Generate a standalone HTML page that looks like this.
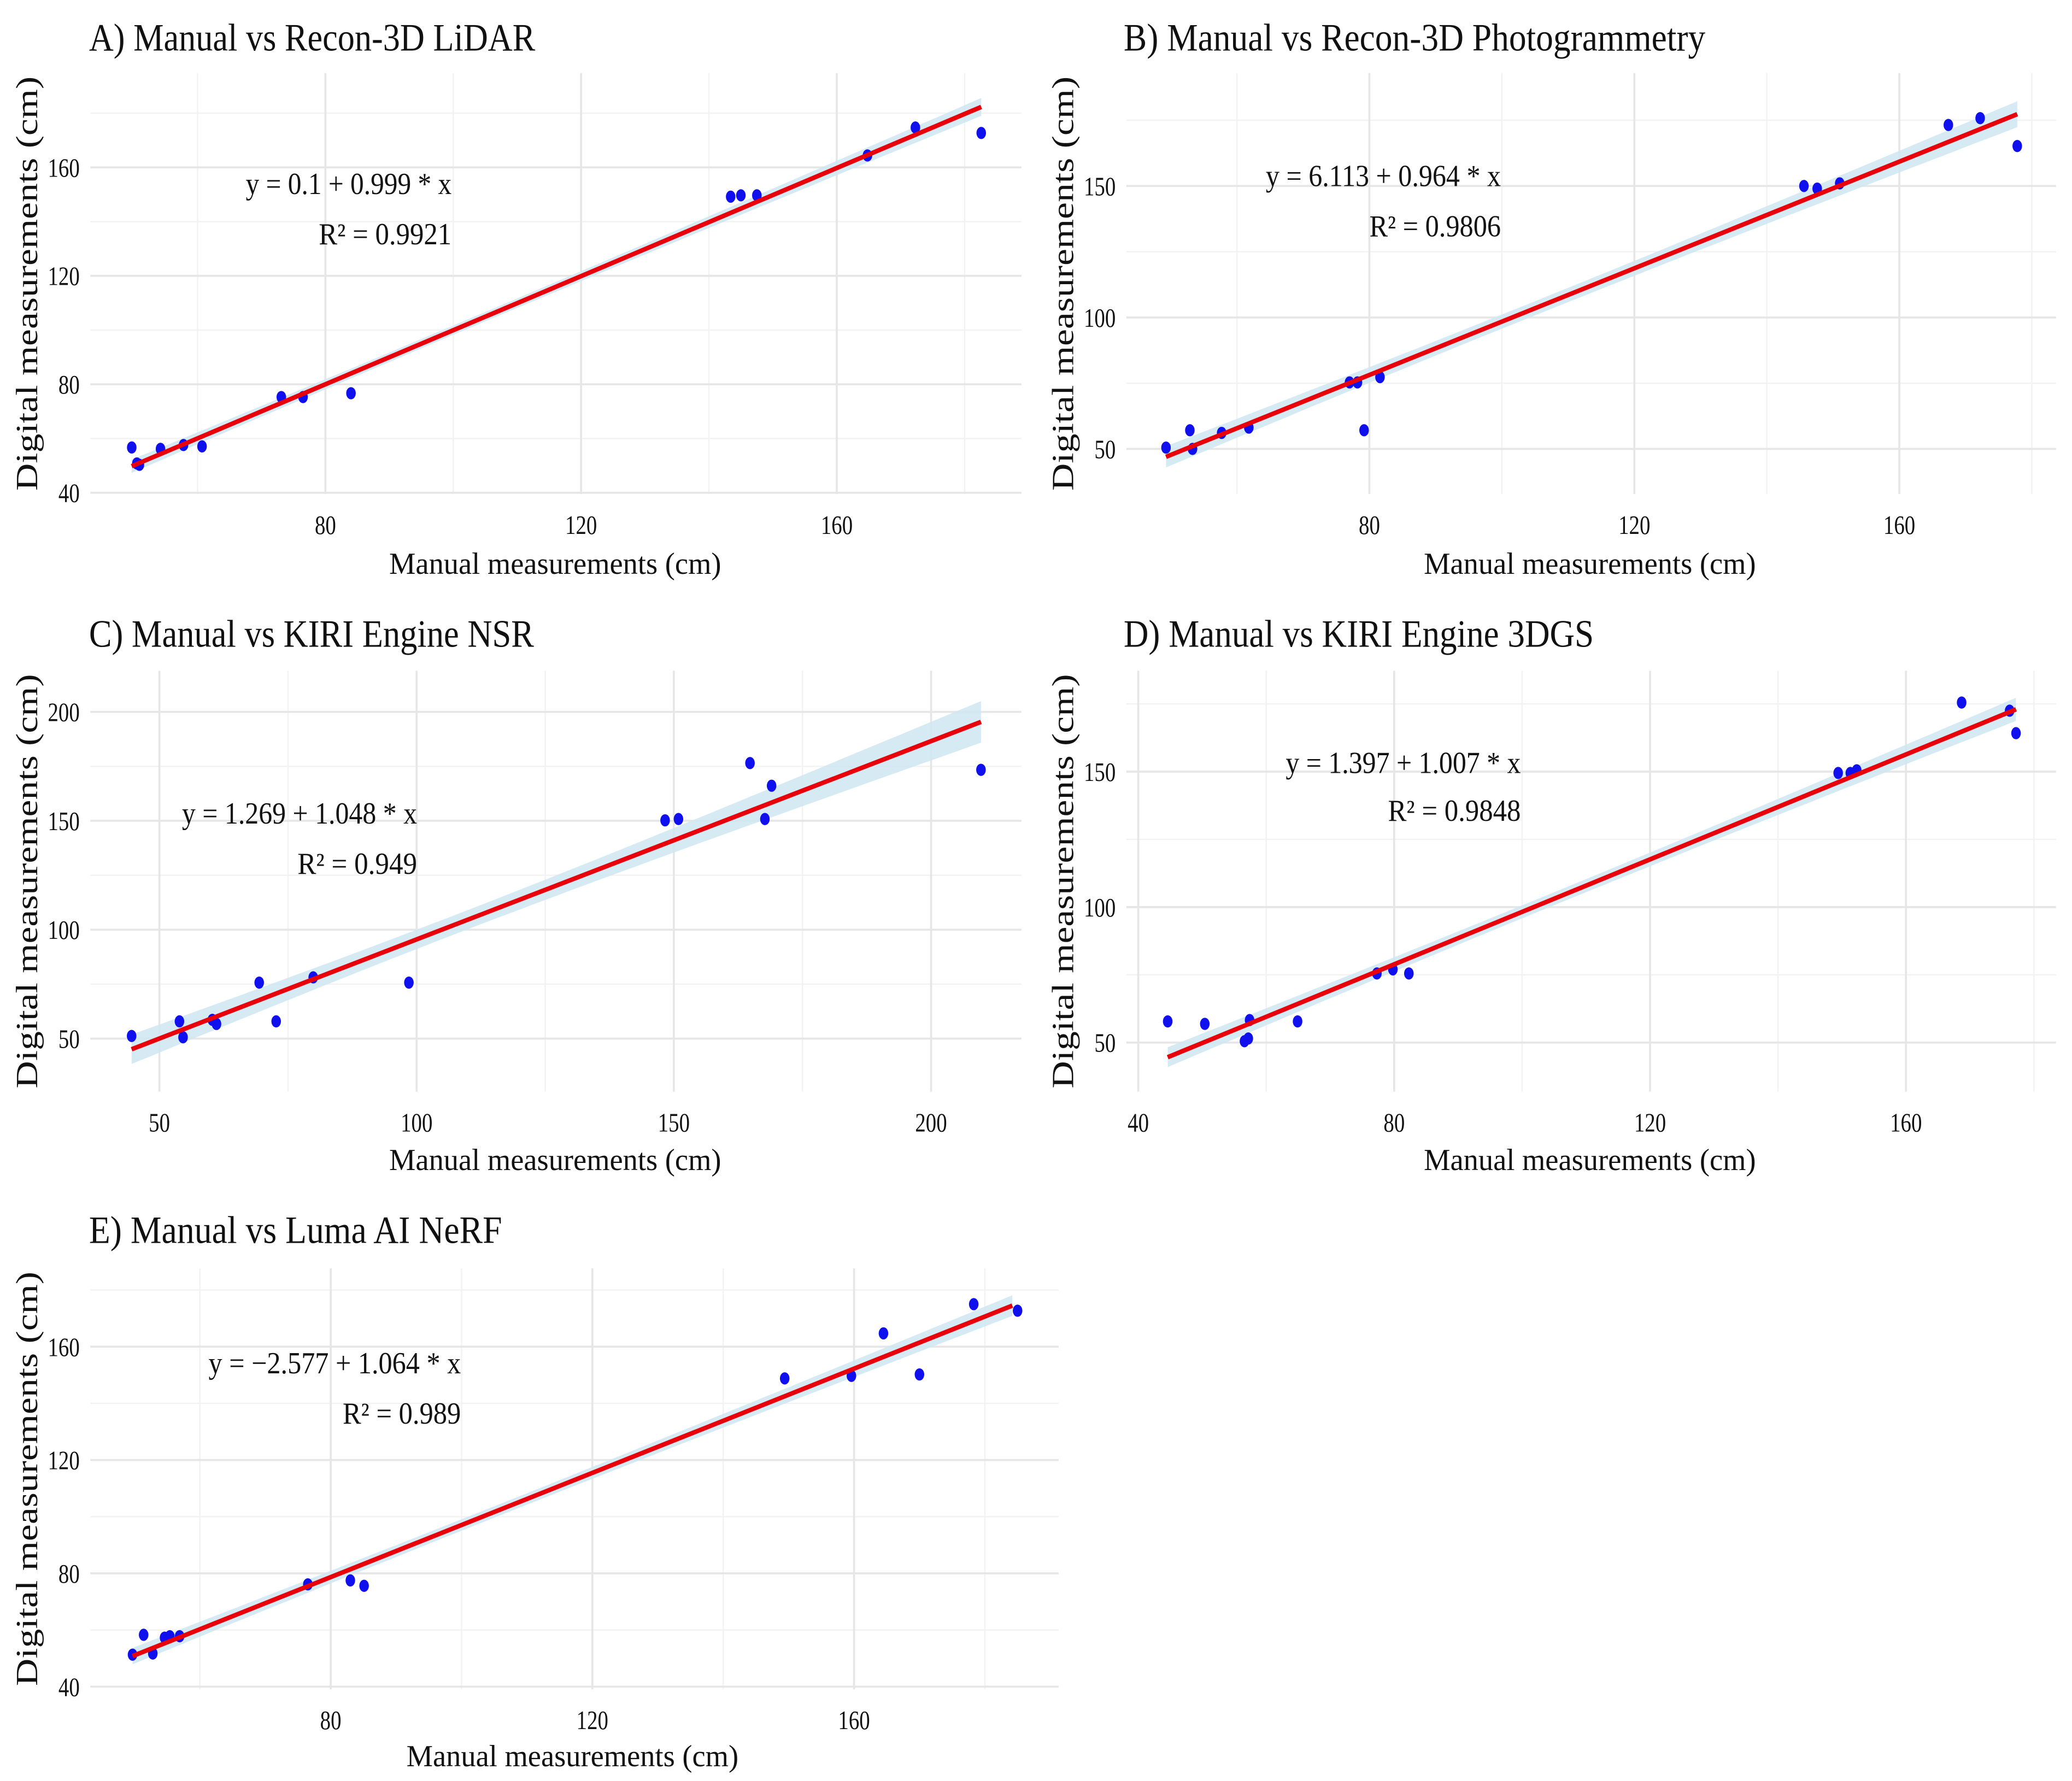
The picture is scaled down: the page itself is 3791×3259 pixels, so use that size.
<!DOCTYPE html>
<html><head><meta charset="utf-8">
<style>
html,body{margin:0;padding:0;background:#fff;}
svg{display:block;}
text{font-family:"Liberation Serif","DejaVu Serif",serif;fill:#111;}
</style></head>
<body>
<svg id="fig" width="3791" height="3259" viewBox="0 0 1560 1341" xmlns="http://www.w3.org/2000/svg"></svg>
<script>
// ---- Panel A data ----
const aX = [49.7,50.5,50.9,54.2,57.8,60.7,73.1,76.5,84.0,143.4,145.0,147.5,164.8,172.3,182.6];
const aY = [56.7,50.8,50.3,56.2,57.6,57.1,75.3,75.3,76.7,149.2,149.7,149.7,164.4,174.7,172.7];
const aLineX = [49.7,182.6];
const aLineY = [49.8,182.3];
const aXTicks = [80,120,160];
const aYTicks = [40,80,120,160];
// ---- Panel B data ----
const bX = [49.3,52.9,53.3,57.7,61.8,77.0,78.2,79.2,81.6,145.6,147.6,151.0,167.4,172.2,177.8];
const bY = [50.5,57.1,50.0,56.1,58.1,75.3,75.3,57.1,77.3,150.0,149.0,151.0,173.2,175.8,165.2];
const bLineX = [49.3,177.8];
const bLineY = [47.0,177.3];
const bXTicks = [80,120,160];
const bYTicks = [50,100,150];
// ---- Panel C data ----
const cX = [44.6,53.9,54.6,60.3,61.1,69.4,72.7,79.9,98.5,148.3,150.9,164.8,167.7,169.0,209.7];
const cY = [51.2,57.9,50.6,58.6,56.7,75.7,57.9,78.1,75.7,150.2,150.8,176.5,150.8,166.1,173.4];
const cLineX = [44.6,209.7];
const cLineY = [45.1,195.4];
const cXTicks = [50,100,150,200];
const cYTicks = [50,100,150,200];
// ---- Panel D data ----
const dX = [44.6,50.4,56.6,57.2,57.4,64.9,77.3,79.8,82.3,149.4,151.3,152.3,168.7,176.2,177.2];
const dY = [57.8,56.9,50.5,51.5,58.3,57.8,75.5,77.0,75.5,149.5,149.5,150.5,175.5,172.5,164.2];
const dLineX = [44.6,177.2];
const dLineY = [44.6,173.0];
const dXTicks = [40,80,120,160];
const dYTicks = [50,100,150];
// ---- Panel E data ----
const eX = [49.7,51.4,52.8,54.6,55.4,56.9,76.5,83.0,85.1,149.4,159.6,164.5,170.0,178.3,185.0];
const eY = [51.3,58.3,51.7,57.3,57.8,57.8,76.1,77.5,75.6,148.8,149.7,164.7,150.2,175.0,172.7];
const eLineX = [49.7,184.2];
const eLineY = [50.8,174.5];
const eXTicks = [80,120,160];
const eYTicks = [40,80,120,160];

const NS="http://www.w3.org/2000/svg";
const fig=document.getElementById('fig');
function mk(tag,attrs,parent){const e=document.createElementNS(NS,tag);for(const k in attrs)e.setAttribute(k,attrs[k]);(parent||fig).appendChild(e);return e;}

const panels=[
 {key:'a',title:'A) Manual vs Recon-3D LiDAR',tx:67,ty:38,tw:336,X:aX,Y:aY,LX:aLineX,LY:aLineY,xt:aXTicks,yt:aYTicks,
  r:[68,55,769,372],xa:[80,245,160,630],ya:[40,371,160,126],eq:'y = 0.1 + 0.999 * x',r2:'R² = 0.9921',e1:[185,146,155],e2:[240,184,100],xl:[418,432],ylx:20},
 {key:'b',title:'B) Manual vs Recon-3D Photogrammetry',tx:846,ty:38,tw:438,X:bX,Y:bY,LX:bLineX,LY:bLineY,xt:bXTicks,yt:bYTicks,
  r:[848,55,1548,372],xa:[80,1031,160,1430],ya:[50,338,150,140],eq:'y = 6.113 + 0.964 * x',r2:'R² = 0.9806',e1:[953,140,177],e2:[1031,178,99],xl:[1197,432],ylx:800},
 {key:'c',title:'C) Manual vs KIRI Engine NSR',tx:67,ty:487,tw:335,X:cX,Y:cY,LX:cLineX,LY:cLineY,xt:cXTicks,yt:cYTicks,
  r:[68,505,769,822],xa:[50,120,200,701],ya:[50,782,200,536],eq:'y = 1.269 + 1.048 * x',r2:'R² = 0.949',e1:[137,620,177],e2:[224,658,90],xl:[418,881],ylx:20},
 {key:'d',title:'D) Manual vs KIRI Engine 3DGS',tx:846,ty:487,tw:354,X:dX,Y:dY,LX:dLineX,LY:dLineY,xt:dXTicks,yt:dYTicks,
  r:[848,505,1548,822],xa:[40,857,160,1435],ya:[50,785,150,581],eq:'y = 1.397 + 1.007 * x',r2:'R² = 0.9848',e1:[968,582,177],e2:[1045,618,100],xl:[1197,881],ylx:800},
 {key:'e',title:'E) Manual vs Luma AI NeRF',tx:67,ty:936,tw:311,X:eX,Y:eY,LX:eLineX,LY:eLineY,xt:eXTicks,yt:eYTicks,
  r:[68,955,797,1272],xa:[80,249,160,643],ya:[40,1270,160,1014],eq:'y = −2.577 + 1.064 * x',r2:'R² = 0.989',e1:[157,1034,190],e2:[258,1072,89],xl:[431,1330],ylx:20}
];

panels.forEach(p=>{
 const g=mk('g',{});
 
 
 const [L,T,R,B]=p.r;
 const sx=v=>p.xa[1]+(v-p.xa[0])*(p.xa[3]-p.xa[1])/(p.xa[2]-p.xa[0]);
 const sy=v=>p.ya[1]+(v-p.ya[0])*(p.ya[3]-p.ya[1])/(p.ya[2]-p.ya[0]);
 const dxT=p.xt[1]-p.xt[0], dyT=p.yt[1]-p.yt[0];
 for(let v=p.xt[0]-dxT*1.5; v<=p.xt[p.xt.length-1]+dxT*1.5; v+=dxT){const x=sx(v);if(x>=L&&x<=R){const l=mk('line',{x1:x,x2:x,y1:T,y2:B,stroke:'#f2f2f2','stroke-width':1},g);}}
 for(let v=p.yt[0]-dyT*1.5; v<=p.yt[p.yt.length-1]+dyT*1.5; v+=dyT){const y=sy(v);if(y>=T&&y<=B){const l=mk('line',{x1:L,x2:R,y1:y,y2:y,stroke:'#f2f2f2','stroke-width':1},g);}}
 p.xt.forEach(v=>{const x=sx(v);
  const l=mk('line',{x1:x,x2:x,y1:T,y2:B,stroke:'#e6e6e6','stroke-width':1.5},g);
  
  const t=mk('text',{x:x,y:B+30,'text-anchor':'middle','font-size':20,fill:'#444',transform:'translate('+x+' 0) scale(0.8 1) translate('+(-x)+' 0)'},g);t.textContent=v;
  });
 p.yt.forEach(v=>{const y=sy(v);
  const l=mk('line',{x1:L,x2:R,y1:y,y2:y,stroke:'#e6e6e6','stroke-width':1.5},g);
  
  const t=mk('text',{x:L-8,y:y+7,'text-anchor':'end','font-size':20,fill:'#444',transform:'translate('+(L-8)+' 0) scale(0.8 1) translate('+(-(L-8))+' 0)'},g);t.textContent=v;
  });
 const n=p.X.length, mx=p.X.reduce((a,b)=>a+b)/n;
 const slope=(p.LY[1]-p.LY[0])/(p.LX[1]-p.LX[0]);
 const f=x=>p.LY[0]+slope*(x-p.LX[0]);
 let sxx=0,sse=0;for(let i=0;i<n;i++){sxx+=(p.X[i]-mx)**2;sse+=(p.Y[i]-f(p.X[i]))**2;}
 const s=Math.sqrt(sse/(n-2)), tq=1.4;
 const up=[],lo=[];
 for(let k=0;k<=40;k++){const x=p.LX[0]+(p.LX[1]-p.LX[0])*k/40;const h=tq*s*Math.sqrt(1/n+(x-mx)**2/sxx);
  up.push(sx(x).toFixed(1)+','+sy(f(x)+h).toFixed(1));lo.unshift(sx(x).toFixed(1)+','+sy(f(x)-h).toFixed(1));}
 const band=mk('polygon',{points:up.concat(lo).join(' '),fill:'#cfe6f2','fill-opacity':0.85},g);
 
 for(let i=0;i<n;i++){const c=mk('ellipse',{cx:sx(p.X[i]),cy:sy(p.Y[i]),rx:3.6,ry:4.6,fill:'#1010ee'},g);
  }
 const ln=mk('line',{x1:sx(p.LX[0]),y1:sy(p.LY[0]),x2:sx(p.LX[1]),y2:sy(p.LY[1]),stroke:'#e8000b','stroke-width':3.4},g);
 
 const ti=mk('text',{x:p.tx,y:p.ty,'font-size':29,textLength:p.tw,lengthAdjust:'spacingAndGlyphs'},g);ti.textContent=p.title;
 
 const e1=mk('text',{x:p.e1[0],y:p.e1[1],'font-size':23,textLength:p.e1[2],lengthAdjust:'spacingAndGlyphs'},g);e1.textContent=p.eq;
 
 const e2=mk('text',{x:p.e2[0],y:p.e2[1],'font-size':23,textLength:p.e2[2],lengthAdjust:'spacingAndGlyphs'},g);e2.textContent=p.r2;
 
 const xl=mk('text',{x:p.xl[0],y:p.xl[1],'font-size':23,'text-anchor':'middle',textLength:250,lengthAdjust:'spacingAndGlyphs'},g);xl.textContent='Manual measurements (cm)';
 
 const cy=(T+B)/2;
 const yl=mk('text',{x:p.ylx+8,y:cy,'font-size':23,'text-anchor':'middle',textLength:312,lengthAdjust:'spacingAndGlyphs',transform:'rotate(-90 '+(p.ylx+8)+' '+cy+')'},g);yl.textContent='Digital measurements (cm)';
 
});
</script>
</body></html>
